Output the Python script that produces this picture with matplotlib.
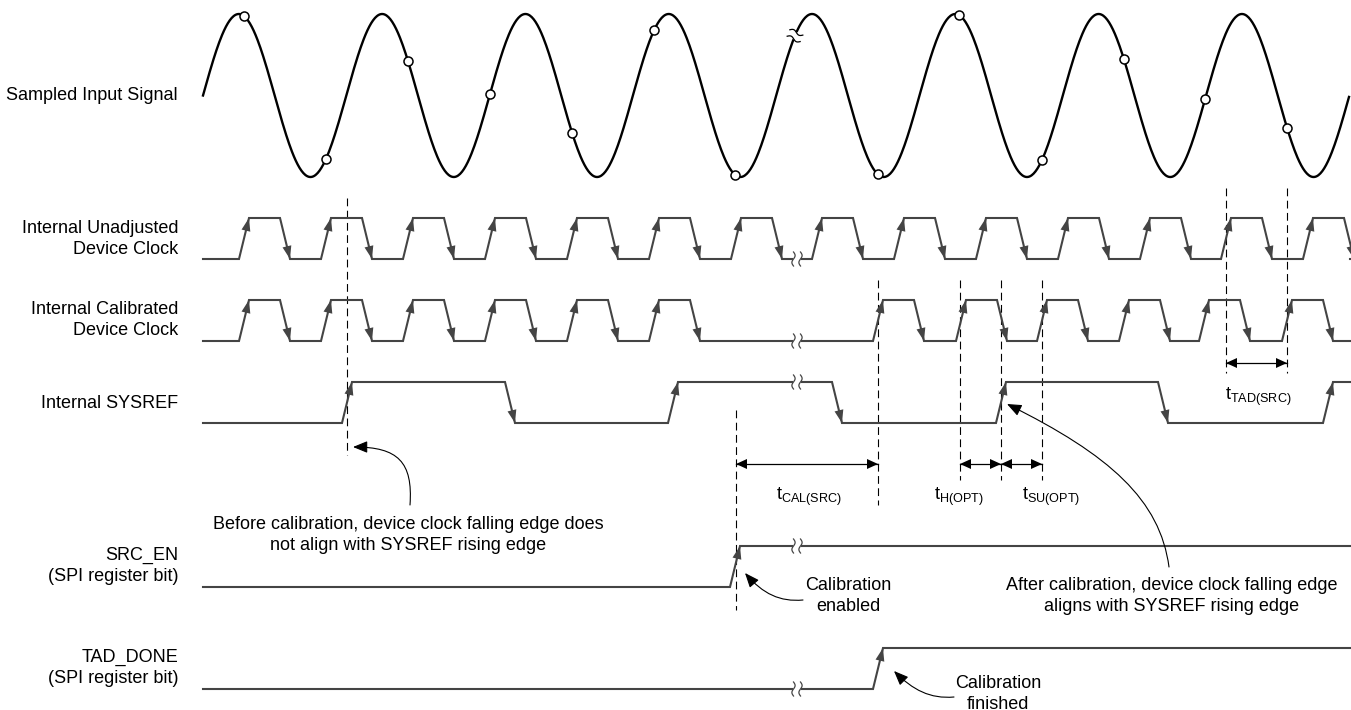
import numpy as np
import matplotlib.pyplot as plt
from matplotlib.patches import FancyArrowPatch
from matplotlib.path import Path

plt.rcParams['font.family'] = ['Liberation Sans', 'DejaVu Sans']
plt.rcParams['mathtext.fontset'] = 'custom'
plt.rcParams['mathtext.rm'] = 'Liberation Sans'

W, H = 1351, 710
LINE = '#444444'

# row labels, right aligned, with their vertical centres (px from top)
row_labels = ['Sampled Input Signal',
              'Internal Unadjusted\nDevice Clock',
              'Internal Calibrated\nDevice Clock',
              'Internal SYSREF',
              'SRC_EN\n(SPI register bit)',
              'TAD_DONE\n(SPI register bit)']
row_label_y = [96, 239, 320, 403, 566, 668]

# (high, low) level of each digital trace
unadj_lvl = (218, 259)
cal_lvl = (300, 341)
sysref_lvl = (382, 423)
srcen_lvl = (546, 587)
taddone_lvl = (648, 689)

# sampled input sine
sine_x0, sine_x1 = 203, 1349
sine_period = 143.3
sine_mid, sine_amp = 95.5, 81.5
sample_x = [244, 326, 408, 490, 572, 654, 735, 878, 959, 1042, 1124, 1205, 1287]

# edge start positions
unadj_rise = [239, 321, 403, 485, 567, 649, 731, 812, 894, 976, 1058, 1140, 1221, 1303]
cal_rise = [239, 321, 403, 485, 567, 649, 873, 956, 1037, 1119, 1199, 1282]
sysref_rise = [342, 668, 996, 1323]
sysref_fall = [505, 832, 1158]
srcen_rise = [730]
taddone_rise = [873]
clk_high_len = 41   # rise start -> fall start
edge_len = 10

break_x = 797

# dashed markers: x, top, bottom
markers = [(347, 198, 455), (736, 410, 610), (878, 280, 505),
           (960, 280, 480), (1001, 280, 480), (1042, 280, 480),
           (1226, 188, 373), (1287, 188, 373)]

# timing dimensions: from, to, y, label, label x, label y
dims = [(736, 878, 464, 'CAL(SRC)', 809, 497),
        (960, 1001, 464, 'H(OPT)', 959, 497),
        (1001, 1042, 464, 'SU(OPT)', 1051, 497),
        (1226, 1287, 363, 'TAD(SRC)', 1258, 397)]

notes = ['Before calibration, device clock falling edge does\nnot align with SYSREF rising edge',
         'Calibration\nenabled',
         'After calibration, device clock falling edge\naligns with SYSREF rising edge',
         'Calibration\nfinished']
note_xy = [(408, 535), (848, 596), (1172, 596), (998, 694)]
# bezier arrows for the notes: start, ctrl1, ctrl2, tip
note_arrows = [[(410, 505), (413, 462), (398, 447), (353, 447)],
               [(803, 600), (780, 602), (763, 594), (745, 573)],
               [(1169, 567), (1160, 500), (1110, 455), (1007, 404)],
               [(954, 697), (930, 699), (913, 690), (894, 671)]]

fig = plt.figure(figsize=(W / 100, H / 100), dpi=100)
ax = fig.add_axes([0, 0, 1, 1])
ax.set_xlim(0, W)
ax.set_ylim(H, 0)
ax.axis('off')


def head(x0, y0, x1, y1, color, length=13, half=4.5, z=4):
    dx, dy = x1 - x0, y1 - y0
    L = np.hypot(dx, dy)
    ux, uy = dx / L, dy / L
    bx, by = x1 - length * ux, y1 - length * uy
    ax.fill([x1, bx - half * uy, bx + half * uy],
            [y1, by + half * ux, by - half * ux], color=color, lw=0, zorder=z)


def trace(edges, lvl, start=203, end=1350):
    hi, lo = lvl
    xs, ys = [start], [lo]
    level = lo
    for x, kind in sorted(edges):
        new = hi if kind == 'r' else lo
        xs += [x, x + edge_len]
        ys += [level, new]
        level = new
    xs.append(end)
    ys.append(level)
    ax.plot(xs, ys, color=LINE, lw=1.5, solid_joinstyle='miter', zorder=3)
    for x, kind in edges:
        new = hi if kind == 'r' else lo
        old = lo if kind == 'r' else hi
        head(x, old, x + edge_len, new, LINE)


def squiggle(x, y, tx=1.0, ty=0.0, color=LINE, gap_lw=4):
    n = np.hypot(tx, ty)
    tx, ty = tx / n, ty / n
    nx, ny = -ty, tx
    ax.plot([x - 4 * tx, x + 4 * tx], [y - 4 * ty, y + 4 * ty],
            color='white', lw=gap_lw, solid_capstyle='butt', zorder=5)
    t = np.linspace(0, 1, 40)
    for off in (-3.5, 3.5):
        a = off + 1.6 * np.sin(2 * np.pi * t)
        b = (t - 0.5) * 14
        ax.plot(x + a * tx + b * nx, y + a * ty + b * ny, color=color, lw=0.9, zorder=6)


# sine
xs = np.linspace(sine_x0, sine_x1, 1200)
sine = lambda x: sine_mid - sine_amp * np.sin(2 * np.pi * (np.asarray(x) - sine_x0) / sine_period)
ax.plot(xs, sine(xs), color='black', lw=1.7, zorder=3)
ax.plot(sample_x, sine(sample_x), 'o', ms=6.5, mfc='white', mec='black', mew=1.1, zorder=7)
bx = 795
slope = -sine_amp * 2 * np.pi / sine_period * np.cos(2 * np.pi * (bx - sine_x0) / sine_period)
squiggle(bx, float(sine(bx)), 1.0, slope, color='black', gap_lw=5)

# digital traces
trace([(r, 'r') for r in unadj_rise] + [(r + clk_high_len, 'f') for r in unadj_rise], unadj_lvl)
trace([(r, 'r') for r in cal_rise] + [(r + clk_high_len, 'f') for r in cal_rise], cal_lvl)
trace([(r, 'r') for r in sysref_rise] + [(f, 'f') for f in sysref_fall], sysref_lvl)
trace([(r, 'r') for r in srcen_rise], srcen_lvl)
trace([(r, 'r') for r in taddone_rise], taddone_lvl)

for lvl in (unadj_lvl, cal_lvl, taddone_lvl):
    squiggle(break_x, lvl[1])
for lvl in (sysref_lvl, srcen_lvl):
    squiggle(break_x, lvl[0])

# dashed reference lines
for x, y0, y1 in markers:
    ax.plot([x, x], [y0, y1], color='black', lw=0.8, dashes=(7, 4), zorder=2)

# timing dimensions
for xa, xb, y, sub, lx, ly in dims:
    ax.plot([xa, xb], [y, y], color='black', lw=0.9, zorder=4)
    head(xb, y, xa, y, 'black', 11, 5)
    head(xa, y, xb, y, 'black', 11, 5)
    ax.text(lx, ly, r'$\mathregular{t_{%s}}$' % sub, fontsize=13, ha='center', va='center')

# row labels
for lab, y in zip(row_labels, row_label_y):
    ax.text(178, y, lab, fontsize=13, ha='right', va='center', linespacing=1.25)

# notes with curved arrows
for txt, (x, y) in zip(notes, note_xy):
    ax.text(x, y, txt, fontsize=13, ha='center', va='center', linespacing=1.25)
for pts in note_arrows:
    p = Path(pts, [Path.MOVETO, Path.CURVE4, Path.CURVE4, Path.CURVE4])
    ax.add_patch(FancyArrowPatch(path=p, arrowstyle='-|>,head_length=1.1,head_width=0.45',
                                 mutation_scale=8, color='black', lw=0.8, zorder=6))

fig.savefig('out.png', dpi=100)
